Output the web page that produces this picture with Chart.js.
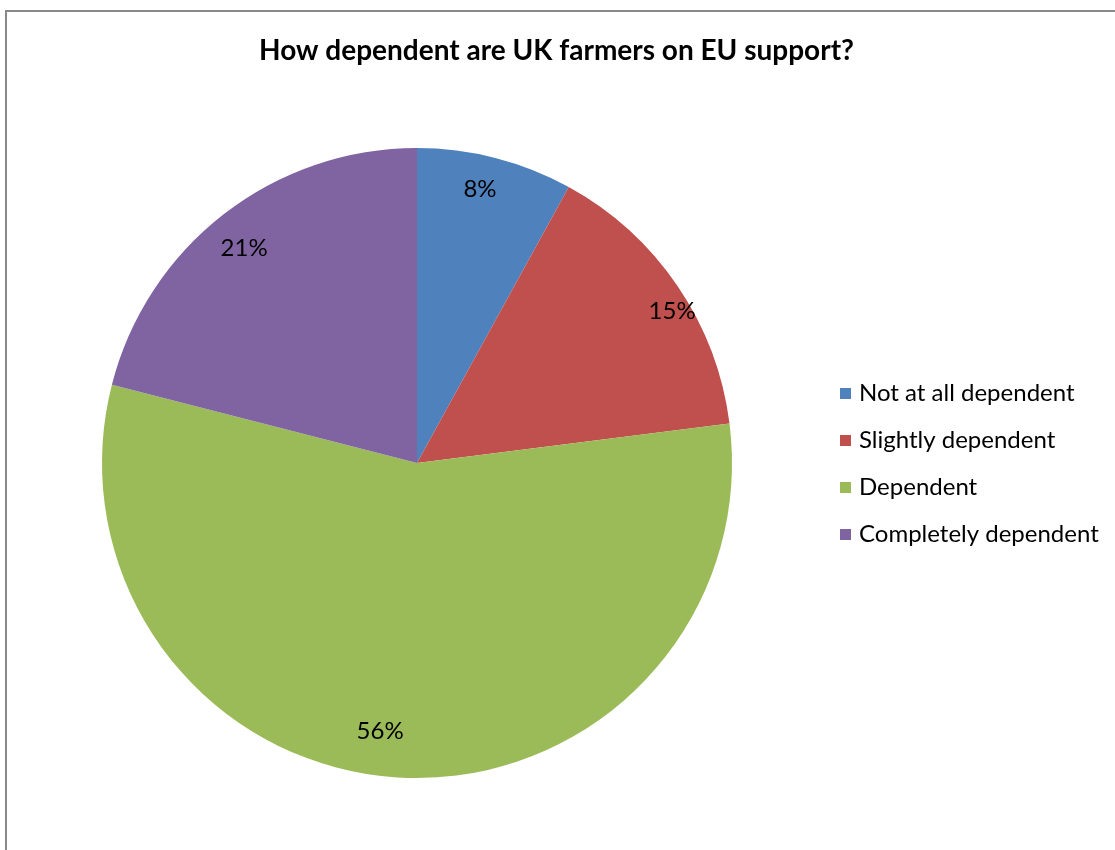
<!DOCTYPE html>
<html>
<head>
<meta charset="utf-8">
<script src="https://cdn.jsdelivr.net/npm/chart.js@4/dist/chart.umd.min.js"></script>
<style>
  html, body { margin: 0; padding: 0; background: #ffffff; }
  #frame { position: absolute; left: 5px; top: 10px; width: 1300px; height: 1000px; border-left: 2px solid #898989; border-top: 2px solid #898989; }
  #wrap { position: absolute; left: 0; top: 0; width: 1115px; height: 850px; }
</style>
</head>
<body>
<div id="frame"></div>
<div id="wrap"><canvas id="c" width="1115" height="850"></canvas></div>
<script>
const chartTitle = "How dependent are UK farmers on EU support?";
const categories = ["Not at all dependent", "Slightly dependent", "Dependent", "Completely dependent"];
const percentages = [8, 15, 56, 21];
const sliceColors = ["#4F81BD", "#C0504D", "#9BBB59", "#8064A2"];

const FONT = "Lato, 'Open Sans', sans-serif";
// label placement inside each slice: fraction along the arc, fraction of radius
const labelArcFrac = [0.45, 0.563, 0.521, 0.487];
const labelRadius = [0.892, 0.943, 0.859, 0.876];

const decorPlugin = {
  id: 'decor',
  afterDatasetsDraw(chart) {
    const ctx = chart.ctx;
    const meta = chart.getDatasetMeta(0);
    const data = chart.data.datasets[0].data;
    ctx.save();
    ctx.fillStyle = '#000';
    ctx.textAlign = 'center';
    ctx.textBaseline = 'middle';
    ctx.font = "24px " + FONT;
    meta.data.forEach((arc, i) => {
      const p = arc.getProps(['x', 'y', 'startAngle', 'endAngle', 'outerRadius'], true);
      const ang = p.startAngle + (p.endAngle - p.startAngle) * labelArcFrac[i];
      const r = p.outerRadius * labelRadius[i];
      ctx.fillText(data[i] + '%', p.x + Math.cos(ang) * r, p.y + Math.sin(ang) * r);
    });
    ctx.restore();
  },
  afterDraw(chart) {
    const ctx = chart.ctx;
    ctx.save();
    // title
    ctx.fillStyle = '#000';
    ctx.textAlign = 'center';
    ctx.textBaseline = 'middle';
    ctx.font = "bold 28px " + FONT;
    ctx.fillText(chartTitle, chart.width / 2 - 1, 51);
    // legend
    const bg = chart.data.datasets[0].backgroundColor;
    ctx.textAlign = 'left';
    ctx.font = "24px " + FONT;
    chart.data.labels.forEach((lab, i) => {
      const y = 393 + i * 47;
      ctx.fillStyle = bg[i];
      ctx.fillRect(840, y - 5, 11, 11);
      ctx.fillStyle = '#000';
      ctx.fillText(lab, 859, y);
    });
    ctx.restore();
  }
};

new Chart(document.getElementById('c'), {
  type: 'pie',
  data: {
    labels: categories,
    datasets: [{
      data: percentages,
      backgroundColor: sliceColors,
      borderWidth: 0
    }]
  },
  options: {
    responsive: false,
    animation: false,
    layout: { padding: { left: 102, right: 383, top: 148, bottom: 72 } },
    plugins: {
      legend: { display: false },
      title: { display: false },
      tooltip: { enabled: false }
    }
  },
  plugins: [decorPlugin]
});
</script>
</body>
</html>
